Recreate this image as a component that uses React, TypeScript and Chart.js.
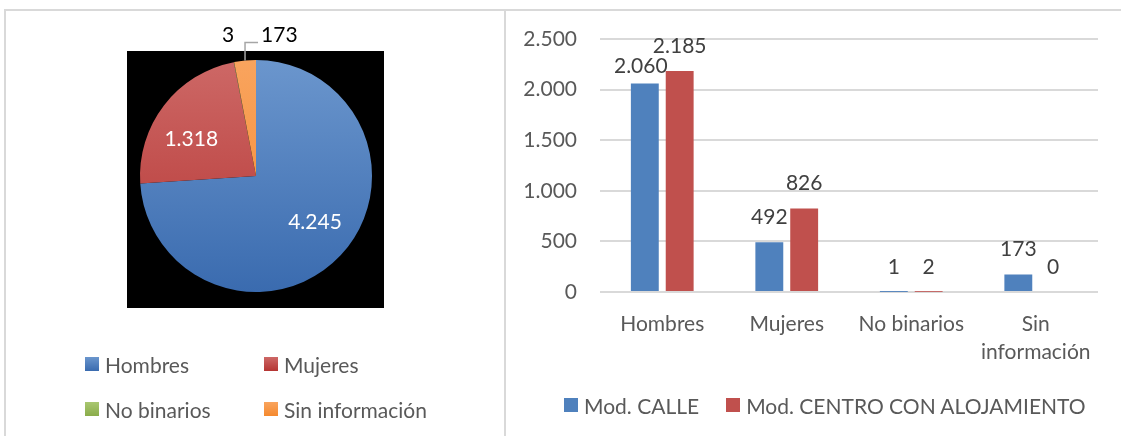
import React, { useEffect, useRef } from 'react';
import { Chart, registerables } from 'chart.js';

Chart.register(...registerables);

const FONT = 'Lato, "Noto Sans", sans-serif';
const TEXT_GRAY = '#595959';
const LABEL_DARK = '#404040';

// ---- Pie data ----
const pieCategories = ['Hombres', 'Mujeres', 'No binarios', 'Sin información'];
const pieValues = [4245, 1318, 3, 173];
const pieColorsTop = ['#6b96cd', '#cd6866', '#a9c771', '#f9a45e'];
const pieColorsBottom = ['#3a6baf', '#b53533', '#8aac4a', '#f5892e'];
const pieFlat = ['#4f81bd', '#c0504d', '#9bbb59', '#f79646'];

// ---- Bar data ----
const barCategories: (string | string[])[] = ['Hombres', 'Mujeres', 'No binarios', ['Sin', 'información']];
const calleValues = [2060, 492, 1, 173];
const centroValues = [2185, 826, 2, 0];
const seriesNames = ['Mod. CALLE', 'Mod. CENTRO CON ALOJAMIENTO'];
const seriesColors = ['#4f81bd', '#c0504d'];
const yMin = 0;
const yMax = 2500;
const yStep = 500;

function fmt(v: number): string {
  return String(v).replace(/\B(?=(\d{3})+(?!\d))/g, '.');
}

const piePlotBg = {
  id: 'piePlotBg',
  beforeDraw(chart: any, _args: any, opts: any) {
    const { ctx, chartArea: a } = chart;
    if (!a) return;
    ctx.save();
    ctx.fillStyle = opts.color;
    ctx.fillRect(
      a.left - opts.left,
      a.top - opts.top,
      a.right - a.left + opts.left + opts.right,
      a.bottom - a.top + opts.top + opts.bottom
    );
    ctx.restore();
  },
};

const pieLabels = {
  id: 'pieLabels',
  afterDatasetsDraw(chart: any, _args: any, opts: any) {
    const ctx = chart.ctx;
    const meta = chart.getDatasetMeta(0);
    const data = chart.data.datasets[0].data as number[];
    const total = data.reduce((s, v) => s + v, 0);
    ctx.save();
    ctx.font = `${opts.size}px ${FONT}`;
    ctx.textBaseline = 'middle';
    meta.data.forEach((el: any, i: number) => {
      const p = el.getProps(['x', 'y', 'startAngle', 'endAngle', 'outerRadius'], true);
      const mid = (p.startAngle + p.endAngle) / 2;
      const text = fmt(data[i]);
      const cfg = (opts.items && opts.items[i]) || {};
      if (data[i] / total > 0.05) {
        const r = p.outerRadius * 0.65;
        ctx.fillStyle = '#ffffff';
        ctx.textAlign = 'center';
        ctx.fillText(text, p.x + Math.cos(mid) * r + (cfg.dx || 0), p.y + Math.sin(mid) * r + (cfg.dy || 0));
      } else {
        const ex = p.x + Math.cos(mid) * p.outerRadius;
        const ey = p.y + Math.sin(mid) * p.outerRadius;
        ctx.fillStyle = '#000000';
        if (cfg.rise) {
          ctx.strokeStyle = '#a6a6a6';
          ctx.lineWidth = 1.5;
          ctx.beginPath();
          ctx.moveTo(ex, ey);
          ctx.lineTo(ex, ey - cfg.rise);
          ctx.lineTo(ex + cfg.run, ey - cfg.rise);
          ctx.stroke();
          ctx.textAlign = 'left';
          ctx.fillText(text, ex + cfg.run + 3, ey - cfg.rise - 7);
        } else {
          ctx.textAlign = 'center';
          ctx.fillText(text, ex + (cfg.dx || 0), ey + (cfg.dy || 0));
        }
      }
    });
    ctx.restore();
  },
};

const barLabels = {
  id: 'barLabels',
  afterDatasetsDraw(chart: any, _args: any, opts: any) {
    const ctx = chart.ctx;
    ctx.save();
    ctx.font = `${opts.size}px ${FONT}`;
    ctx.fillStyle = opts.color;
    ctx.textAlign = 'center';
    ctx.textBaseline = 'middle';
    chart.data.datasets.forEach((ds: any, di: number) => {
      const meta = chart.getDatasetMeta(di);
      meta.data.forEach((bar: any, i: number) => {
        const n = (opts.nudges || []).find((q: any) => q.dataset === di && q.index === i);
        ctx.fillText(fmt(ds.data[i]), bar.x + (n ? n.dx : 0), bar.y - opts.gap + (n ? n.dy : 0));
      });
    });
    ctx.restore();
  },
};

export default function App() {
  const pieRef = useRef<HTMLCanvasElement>(null);
  const barRef = useRef<HTMLCanvasElement>(null);

  useEffect(() => {
    const pie = new Chart(pieRef.current as HTMLCanvasElement, {
      type: 'pie',
      data: {
        labels: pieCategories,
        datasets: [
          {
            data: pieValues,
            borderWidth: 0,
            backgroundColor: (c: any) => {
              const chart = c.chart;
              const a = chart.chartArea;
              const i = c.dataIndex ?? 0;
              if (!a) return pieFlat[i];
              const g = chart.ctx.createLinearGradient(0, a.top, 0, a.bottom);
              g.addColorStop(0, pieColorsTop[i]);
              g.addColorStop(1, pieColorsBottom[i]);
              return g;
            },
          },
        ],
      },
      options: {
        animation: false,
        responsive: false,
        events: [],
        layout: { padding: { left: 140, right: 132, top: 60, bottom: 144 } },
        plugins: {
          legend: { display: false },
          tooltip: { enabled: false },
          piePlotBg: { color: '#000000', left: 13, top: 9, right: 12, bottom: 16 },
          pieLabels: {
            size: 21,
            items: [{ dx: 4, dy: -5 }, { dx: -5, dy: 9 }, { dx: -6, dy: -27 }, { rise: 18, run: 13 }],
          },
        } as any,
      },
      plugins: [piePlotBg, pieLabels],
    });

    const bar = new Chart(barRef.current as HTMLCanvasElement, {
      type: 'bar',
      data: {
        labels: barCategories,
        datasets: [
          {
            label: seriesNames[0],
            data: calleValues,
            backgroundColor: seriesColors[0],
            categoryPercentage: 0.56,
            barPercentage: 0.8,
            inflateAmount: 0,
          },
          {
            label: seriesNames[1],
            data: centroValues,
            backgroundColor: seriesColors[1],
            categoryPercentage: 0.56,
            barPercentage: 0.8,
            inflateAmount: 0,
          },
        ],
      },
      options: {
        animation: false,
        responsive: false,
        events: [],
        layout: { padding: { left: 0, right: 23, top: 39, bottom: 0 } },
        scales: {
          y: {
            min: yMin,
            max: yMax,
            ticks: {
              stepSize: yStep,
              callback: (v: any) => fmt(Number(v)),
              font: { family: FONT, size: 21 },
              color: TEXT_GRAY,
              padding: 23,
            },
            grid: { color: '#d9d9d9', lineWidth: 2, drawTicks: false },
            border: { display: false },
            afterFit: (s: any) => {
              s.width = 93;
            },
          },
          x: {
            ticks: {
              font: { family: FONT, size: 21, lineHeight: 1.333 },
              color: TEXT_GRAY,
              padding: 10,
              maxRotation: 0,
              autoSkip: false,
            },
            grid: { display: false },
            border: { display: false },
            afterFit: (s: any) => {
              s.height = 144;
            },
          },
        },
        plugins: {
          legend: { display: false },
          tooltip: { enabled: false },
          barLabels: {
            size: 21,
            color: LABEL_DARK,
            gap: 25,
            nudges: [{ dataset: 0, index: 0, dx: -4, dy: 8 }],
          },
        } as any,
      },
      plugins: [barLabels],
    });

    return () => {
      pie.destroy();
      bar.destroy();
    };
  }, []);

  const swatch = (top: string, bottom: string) => ({
    width: 14,
    height: 14,
    background: `linear-gradient(${top}, ${bottom})`,
    flex: '0 0 auto',
  });

  const textStyle: React.CSSProperties = {
    fontFamily: FONT,
    fontSize: 21,
    color: TEXT_GRAY,
    lineHeight: '25px',
    whiteSpace: 'nowrap',
  };

  const pieLegendCols = [85, 264];
  const pieLegendRows = [364, 409];

  return (
    <div
      style={{
        position: 'absolute',
        left: 0,
        top: 0,
        width: 1121,
        height: 436,
        overflow: 'hidden',
        background: '#ffffff',
      }}
    >
      <div
        style={{
          position: 'absolute',
          left: 4,
          top: 9,
          width: 1200,
          height: 600,
          border: '2px solid #d9d9d9',
          boxSizing: 'border-box',
        }}
      />
      <div style={{ position: 'absolute', left: 504, top: 9, width: 2, height: 500, background: '#d9d9d9' }} />
      <canvas ref={pieRef} width={504} height={436} style={{ position: 'absolute', left: 0, top: 0 }} />
      <canvas ref={barRef} width={614} height={436} style={{ position: 'absolute', left: 507, top: 0 }} />

      {pieCategories.map((name, i) => (
        <div
          key={name}
          style={{
            position: 'absolute',
            left: pieLegendCols[i % 2],
            top: pieLegendRows[Math.floor(i / 2)] - 12.5,
            height: 25,
            display: 'flex',
            alignItems: 'center',
            gap: 6,
          }}
        >
          <div style={swatch(pieColorsTop[i], pieColorsBottom[i])} />
          <span style={textStyle}>{name}</span>
        </div>
      ))}

      <div
        style={{
          position: 'absolute',
          left: 564,
          top: 405 - 12.5,
          height: 25,
          display: 'flex',
          alignItems: 'center',
          gap: 27,
        }}
      >
        {seriesNames.map((name, i) => (
          <div key={name} style={{ display: 'flex', alignItems: 'center', gap: 6 }}>
            <div style={{ width: 14, height: 14, background: seriesColors[i], flex: '0 0 auto' }} />
            <span style={textStyle}>{name}</span>
          </div>
        ))}
      </div>
    </div>
  );
}
